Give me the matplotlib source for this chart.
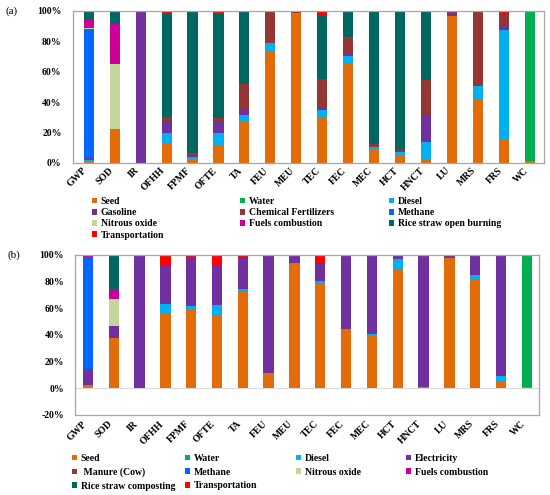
import matplotlib
matplotlib.use("Agg")
import matplotlib.pyplot as plt
import numpy as np
from matplotlib.patches import Patch

categories = ["GWP", "SOD", "IR", "OFHH", "FPMF", "OFTE", "TA", "FEU", "MEU",
              "TEC", "FEC", "MEC", "HCT", "HNCT", "LU", "MRS", "FRS", "WC"]

# ---- panel (a) contributions (%) ----
seed_a      = [1.5, 22, 0, 12.5, 2.9, 11.6, 27.9, 73.2, 99, 30, 65.6, 9.4, 5.3, 2.4, 96.9, 41.4, 15.6, 1.1]
water_a     = [0, 0, 0, 0, 0, 0, 0, 0, 0, 0, 0, 0, 0, 0, 0, 0, 0, 98.9]
diesel_a    = [0.8, 0.5, 0, 7.5, 1.1, 8.4, 3.7, 5.5, 0, 4.9, 4.8, 1.1, 1.9, 11.6, 0, 9.3, 71.9, 0]
gasoline_a  = [0.7, 0, 100, 7.9, 1.3, 7.9, 3.7, 0, 0, 1.7, 1.5, 0, 0, 17.6, 1.6, 0, 2.9, 0]
chemfert_a  = [0.3, 0, 0, 2.1, 1.5, 1.5, 16.7, 21.3, 0.5, 18.4, 11.2, 2.0, 1.4, 23, 1.5, 49.3, 7.6, 0]
methane_a   = [85, 0, 0, 0, 0, 0, 0, 0, 0, 0, 0, 0, 0, 0, 0, 0, 0, 0]
n2o_a       = [0.5, 42.6, 0, 0, 0, 0, 0, 0, 0, 0, 0, 0, 0, 0, 0, 0, 0, 0]
fuels_a     = [6, 26.3, 0, 0, 0, 0, 0, 0, 0, 0, 0, 0, 0, 0, 0, 0, 0, 0]
burning_a   = [5.2, 8.6, 0, 68, 93.2, 68.6, 47.1, 0, 0.5, 41.9, 16.9, 87.5, 91.4, 44.5, 0, 0, 0, 0]
transport_a = [0, 0, 0, 2, 0, 2, 0.9, 0, 0, 3.1, 0, 0, 0, 0.9, 0, 0, 2, 0]

labels_a = ["Seed", "Water", "Diesel", "Gasoline", "Chemical Fertilizers", "Methane",
            "Nitrous oxide", "Fuels combustion", "Rice straw open burning", "Transportation"]

# ---- panel (b) contributions (%) ----
seed_b      = [2.5, 37.5, 0, 56.3, 59.3, 54.3, 72.5, 11.8, 94.3, 78.3, 44.3, 40, 89.3, 0.5, 98, 81.8, 5, 1]
water_b     = [0, 0, 0, 0, 0, 0, 0, 0, 0, 0, 0, 0, 0, 0, 0, 0, 0, 99]
diesel_b    = [0, 0, 0, 7, 2.5, 8.2, 1.8, 0, 0, 2.2, 0, 0.8, 7.7, 0.7, 0, 3.5, 4.3, 0]
elec_b      = [12, 9.5, 100, 28.7, 36.2, 30, 23.7, 88.2, 5.7, 12.8, 55.7, 59.2, 3, 98.8, 2, 14.7, 90, 0]
manure_b    = [0] * 18
methane_b   = [83.8, 0, 0, 0, 0, 0, 0, 0, 0, 0, 0, 0, 0, 0, 0, 0, 0, 0]
n2o_b       = [0, 19.8, 0, 0, 0, 0, 0, 0, 0, 0, 0, 0, 0, 0, 0, 0, 0, 0]
fuels_b     = [1.7, 7.5, 0, 0, 0, 0, 0, 0, 0, 0, 0, 0, 0, 0, 0, 0, 0, 0]
compost_b   = [0, 25.7, 0, 0, 0, 0, 0, 0, 0, 0, 0, 0, 0, 0, 0, 0, 0, 0]
transport_b = [0, 0, 0, 8, 2, 7.5, 2, 0, 0, 6.7, 0, 0, 0, 0, 0, 0, 0.7, 0]

labels_b = ["Seed", "Water", "Diesel", "Electricity", " Manure (Cow)", "Methane",
            "Nitrous oxide", "Fuels combustion", "Rice straw composting", "Transportation"]

C_SEED, C_WATER, C_DIESEL, C_PURPLE = "#E36C09", "#00B050", "#00B0F0", "#7030A0"
C_BROWN, C_METH, C_N2O, C_FUEL = "#943634", "#0066FF", "#C3D69B", "#CC0099"
C_TEAL, C_RED = "#006660", "#FF0000"
colors = [C_SEED, C_WATER, C_DIESEL, C_PURPLE, C_BROWN, C_METH, C_N2O, C_FUEL, C_TEAL, C_RED]

series_a = [seed_a, water_a, diesel_a, gasoline_a, chemfert_a, methane_a, n2o_a, fuels_a, burning_a, transport_a]
series_b = [seed_b, water_b, diesel_b, elec_b, manure_b, methane_b, n2o_b, fuels_b, compost_b, transport_b]

FONT = "Liberation Serif"
plt.rcParams["font.family"] = FONT

fig = plt.figure(figsize=(5.5, 4.95), dpi=100)
W, H = 550, 495

def ax_px(l, t, r, b):
    return fig.add_axes([l / W, 1 - b / H, (r - l) / W, (b - t) / H])

ax_a = ax_px(72.7, 11, 544, 163)
ax_b = ax_px(75, 255, 539, 415)

x = np.arange(len(categories))
SPINE = "#A6A6A6"

def draw(ax, series, ylim, xlim, width, pad):
    bottom = np.zeros(len(categories))
    for vals, col in zip(series, colors):
        v = np.array(vals, dtype=float) / 100.0
        ax.bar(x, v, width, bottom=bottom, color=col, edgecolor="none", linewidth=0)
        bottom += v
    ax.set_xlim(*xlim)
    ax.set_ylim(*ylim)
    ticks = np.arange(ylim[0], ylim[1] + 0.001, 0.2)
    ax.set_yticks(ticks)
    ax.set_yticklabels([f"{int(round(t*100))}%" for t in ticks], fontsize=7, fontweight="bold")
    ax.set_xticks(x)
    ax.set_xticklabels(categories, rotation=45, ha="right", va="top", fontsize=7, fontweight="bold")
    ax.tick_params(axis="both", length=0)
    ax.tick_params(axis="x", pad=pad)
    ax.tick_params(axis="y", pad=8)
    for s in ax.spines.values():
        s.set_color(SPINE)
        s.set_linewidth(0.9)

draw(ax_a, series_a, (0, 1.0), (-0.62, 17.55), 0.39, 2)
draw(ax_b, series_b, (-0.2, 1.0), (-0.5, 17.47), 0.40, 3)
ax_b.axhline(0, color="#D9D9D9", linewidth=0.8, zorder=0)

fig.text(5 / W, 1 - 11 / H, "(a)", fontsize=8, va="center", ha="left")
fig.text(7 / W, 1 - 255 / H, "(b)", fontsize=8, va="center", ha="left")

def col_legend(handles, labels, xpx, ytop_px, spacing):
    fig.legend(handles, labels, loc="upper left", bbox_to_anchor=(xpx / W, 1 - ytop_px / H),
               frameon=False, handlelength=0.55, handleheight=0.55, handletextpad=0.35,
               borderaxespad=0, borderpad=0, labelspacing=spacing,
               prop={"family": FONT, "weight": "bold", "size": 7})

patches = [Patch(facecolor=c, edgecolor="none") for c in colors]

# panel (a) legend, 3 equal-width columns, row-major order
cols_a_x = [92, 240, 389]
for j in range(3):
    idx = list(range(j, 10, 3))
    col_legend([patches[i] for i in idx], [labels_a[i] for i in idx], cols_a_x[j], 197, 0.23)

# panel (b) legend, 4 equal-width columns
cols_b_x = [72, 185, 296, 406]
for j in range(4):
    idx = list(range(j, 10, 4))
    col_legend([patches[i] for i in idx], [labels_b[i] for i in idx], cols_b_x[j], 454, 0.47)

fig.savefig("out.png", dpi=100)
